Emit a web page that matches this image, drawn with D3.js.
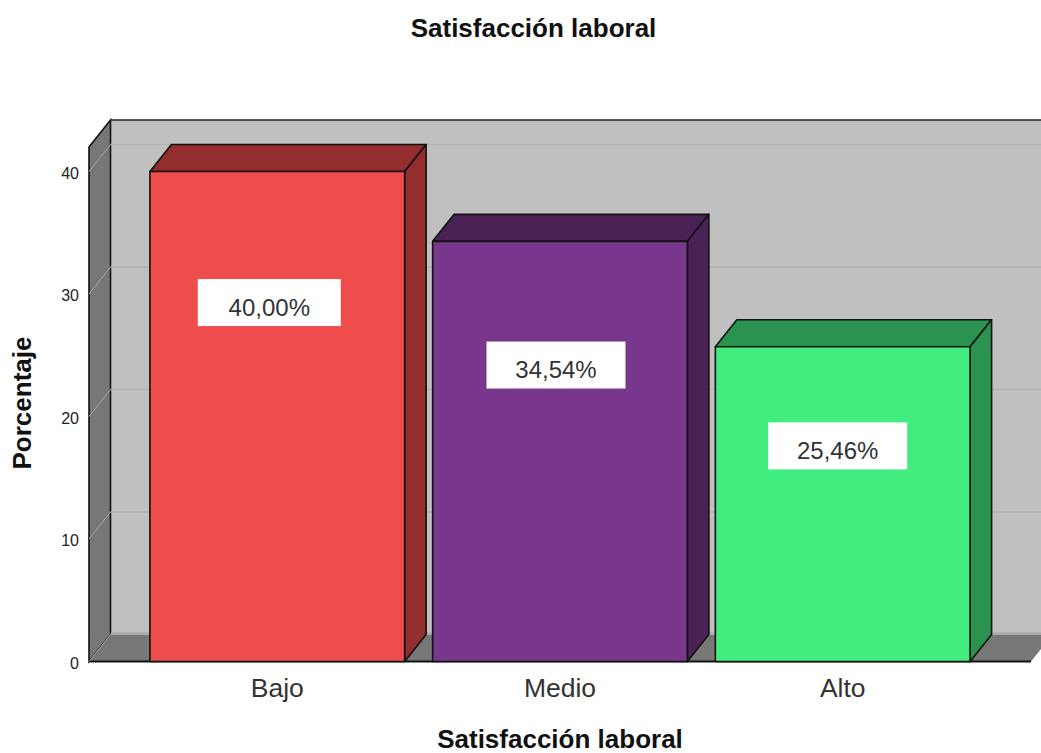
<!DOCTYPE html>
<html lang="en">
<head>
<meta charset="UTF-8">
<title>Satisfacción laboral</title>
<script src="https://cdn.jsdelivr.net/npm/d3@7"></script>
<style>
    html, body { margin: 0; background: #fff; overflow: hidden; }
    text { font-family: "Liberation Sans", Arial, sans-serif; }
</style>
</head>
<body>
<script>

// the printed labels don't quite agree with the bar heights
const categories = ['Bajo', 'Medio', 'Alto'];
const bar_values = [40, 34.3, 25.7];
const bar_labels = ['40,00%', '34,54%', '25,46%'];
const y_ticks = [0, 10, 20, 30, 40];
const front_colors = ['#ef4c4c', '#78378c', '#42ed80'];
const dark_colors = ['#942e2e', '#4a2256', '#2a9350'];

const width = 1041, height = 753;
const dx = 21.5, dy = -27; // 3d depth
const x0 = 89, x1 = 1031;
const y_bottom = 661.5, y_top = 147;

let svg = d3.select('body').append('svg')
    .attr('width', width)
    .attr('height', height)
    .style('display', 'block');

let y = d3.scaleLinear().domain([0, 42]).range([y_bottom, y_top]);
let x = d3.scaleBand().domain(categories).range([x0, x1])
    .paddingInner(0.099).paddingOuter(0.2155);

const poly = (pts) => pts.map(p => p.join(',')).join(' ');

// back wall, side wall, floor
svg.append('polygon')
    .attr('points', poly([[x0 + dx, y(42) + dy], [x1 + dx, y(42) + dy], [x1 + dx, y(0) + dy], [x0 + dx, y(0) + dy]]))
    .attr('fill', '#c0c0c0');
svg.append('polygon')
    .attr('points', poly([[x0, y(42)], [x0 + dx, y(42) + dy], [x0 + dx, y(0) + dy], [x0, y(0)]]))
    .attr('fill', '#777')
    .attr('stroke', '#111')
    .attr('stroke-width', 1.6);
svg.append('polygon')
    .attr('points', poly([[x0, y(0)], [x0 + dx, y(0) + dy], [x1 + dx, y(0) + dy], [x1, y(0)]]))
    .attr('fill', '#777');
svg.append('line')
    .attr('x1', x0 + dx).attr('x2', width)
    .attr('y1', y(42) + dy).attr('y2', y(42) + dy)
    .attr('stroke', '#222').attr('stroke-width', 1.6);
svg.append('line')
    .attr('x1', x0 + dx).attr('x2', x1 + dx)
    .attr('y1', y(0) + dy - 1).attr('y2', y(0) + dy - 1)
    .attr('stroke', '#aaa').attr('stroke-width', 2);
svg.append('line')
    .attr('x1', x0).attr('x2', x1)
    .attr('y1', y(0)).attr('y2', y(0))
    .attr('stroke', '#111').attr('stroke-width', 1.8);

// gridlines on the walls
svg.selectAll('.grid_back')
    .data(y_ticks.slice(1))
    .enter()
    .append('line')
    .attr('class', 'grid_back')
    .attr('x1', x0 + dx).attr('x2', width)
    .attr('y1', d => y(d) + dy).attr('y2', d => y(d) + dy)
    .attr('stroke', '#b2b2b2').attr('stroke-width', 1.5);
svg.selectAll('.grid_side')
    .data(y_ticks)
    .enter()
    .append('line')
    .attr('class', 'grid_side')
    .attr('x1', x0).attr('x2', x0 + dx)
    .attr('y1', d => y(d)).attr('y2', d => y(d) + dy)
    .attr('stroke', '#a8a8a8').attr('stroke-width', 1);

// bars
let bars = svg.selectAll('.bar')
    .data(categories)
    .enter()
    .append('g')
    .attr('class', 'bar')
    .attr('stroke', '#111')
    .attr('stroke-width', 1.6)
    .attr('stroke-linejoin', 'round');

bars.append('polygon')
    .attr('fill', (d, i) => dark_colors[i])
    .attr('points', (d, i) => {
        let l = x(d), r = l + x.bandwidth(), t = y(bar_values[i]);
        return poly([[l, t], [l + dx, t + dy], [r + dx, t + dy], [r, t]]);
    });
bars.append('polygon')
    .attr('fill', (d, i) => dark_colors[i])
    .attr('points', (d, i) => {
        let r = x(d) + x.bandwidth(), t = y(bar_values[i]);
        return poly([[r, t], [r + dx, t + dy], [r + dx, y(0) + dy], [r, y(0)]]);
    });
bars.append('rect')
    .attr('x', d => x(d))
    .attr('y', (d, i) => y(bar_values[i]))
    .attr('width', x.bandwidth())
    .attr('height', (d, i) => y(0) - y(bar_values[i]))
    .attr('fill', (d, i) => front_colors[i]);

// value labels sit in white boxes, placed by hand in the original
const label_at = [29.3, 24.2, 17.6];
const label_shift = [-8, -4, -5];
const box_w = [143, 139, 139];

let labels = svg.selectAll('.value_label')
    .data(categories)
    .enter()
    .append('g')
    .attr('class', 'value_label')
    .attr('transform', (d, i) => `translate(${x(d) + x.bandwidth() / 2 + label_shift[i]},${y(label_at[i])})`);
labels.append('rect')
    .attr('x', (d, i) => -box_w[i] / 2)
    .attr('y', -23.5)
    .attr('width', (d, i) => box_w[i])
    .attr('height', 47)
    .attr('fill', '#fff');
labels.append('text')
    .attr('text-anchor', 'middle')
    .attr('y', 5)
    .attr('dy', '0.35em')
    .attr('font-size', 24)
    .attr('fill', '#333')
    .text((d, i) => bar_labels[i]);

// axes, only their text is visible
let y_axis = svg.append('g')
    .attr('transform', `translate(${x0},1.5)`)
    .call(d3.axisLeft(y).tickValues(y_ticks).tickSize(0).tickPadding(10));
y_axis.select('.domain').remove();
y_axis.selectAll('text')
    .attr('font-size', 16)
    .attr('fill', '#222')
    .style('font-family', '"Liberation Sans", Arial, sans-serif');

let x_axis = svg.append('g')
    .attr('transform', `translate(0,${y_bottom})`)
    .call(d3.axisBottom(x).tickSize(0).tickPadding(17));
x_axis.select('.domain').remove();
x_axis.selectAll('text')
    .attr('font-size', 26.5)
    .attr('fill', '#333')
    .style('font-family', '"Liberation Sans", Arial, sans-serif');

// titles
svg.append('text')
    .attr('x', 533.5).attr('y', 37)
    .attr('text-anchor', 'middle')
    .attr('font-size', 26)
    .attr('font-weight', 'bold')
    .attr('fill', '#111')
    .text('Satisfacción laboral');
svg.append('text')
    .attr('x', 560).attr('y', 748)
    .attr('text-anchor', 'middle')
    .attr('font-size', 26)
    .attr('font-weight', 'bold')
    .attr('fill', '#111')
    .text('Satisfacción laboral');
svg.append('text')
    .attr('transform', 'translate(31,403) rotate(-90)')
    .attr('text-anchor', 'middle')
    .attr('font-size', 26)
    .attr('font-weight', 'bold')
    .attr('fill', '#111')
    .text('Porcentaje');

</script>
</body>
</html>
